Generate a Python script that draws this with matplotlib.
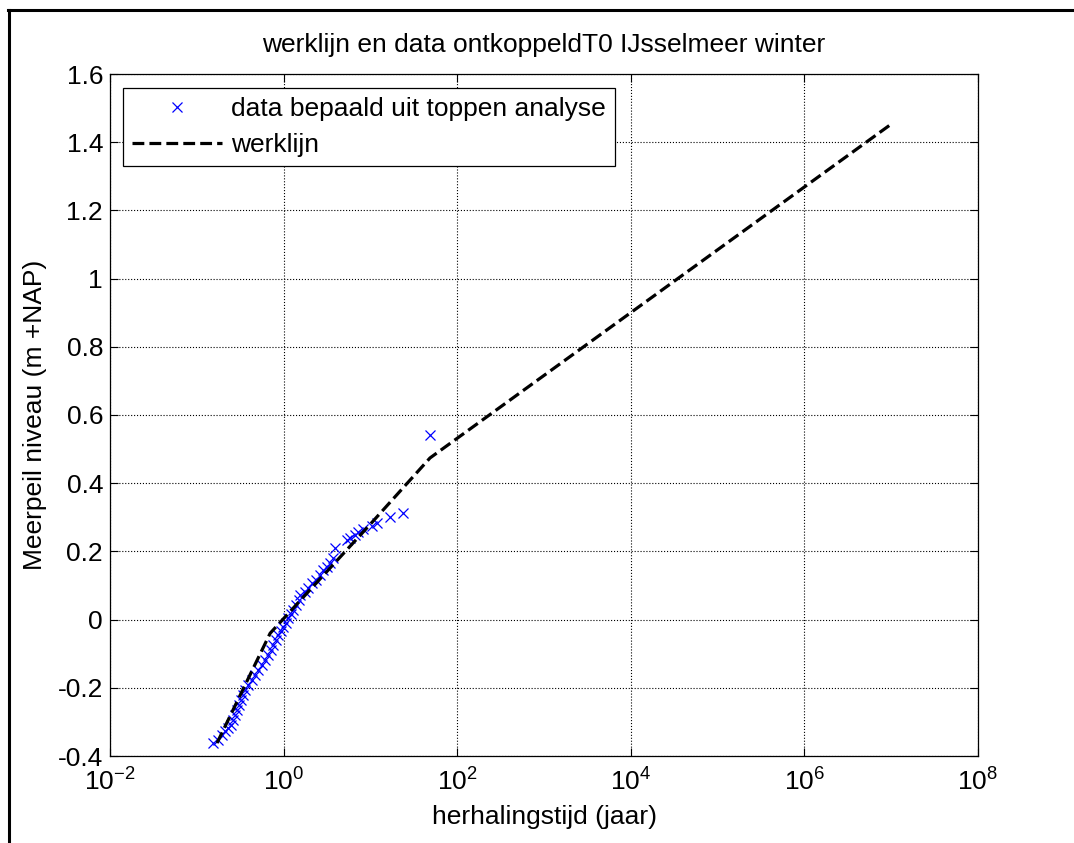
import numpy as np
import matplotlib.pyplot as plt
from matplotlib.lines import Line2D

plt.rcParams['font.family'] = ['Liberation Sans', 'DejaVu Sans']
plt.rcParams['mathtext.fontset'] = 'custom'
plt.rcParams['mathtext.rm'] = 'Liberation Sans'
plt.rcParams['mathtext.it'] = 'Liberation Sans'

# data bepaald uit toppen analyse (log10 van herhalingstijd, niveau)
log_T = np.array([-0.810, -0.753, -0.714, -0.676, -0.637, -0.611, -0.588, -0.561,
                  -0.541, -0.511, -0.495, -0.472, -0.445, -0.407, -0.369, -0.330,
                  -0.292, -0.253, -0.215, -0.177, -0.150, -0.119, -0.088, -0.061,
                  -0.035, -0.004, 0.027, 0.054, 0.081, 0.111, 0.142, 0.180,
                  0.188, 0.246, 0.284, 0.323, 0.372, 0.419, 0.457, 0.495,
                  0.534, 0.572, 0.591, 0.726, 0.764, 0.822, 0.860, 0.918,
                  1.014, 1.071, 1.225, 1.379, 1.686])
niveau = np.array([-0.363, -0.353, -0.338, -0.328, -0.319, -0.309, -0.294, -0.280,
                   -0.265, -0.250, -0.236, -0.221, -0.206, -0.192, -0.177, -0.162,
                   -0.148, -0.133, -0.118, -0.104, -0.089, -0.074, -0.060, -0.045,
                   -0.032, -0.021, -0.009, 0.004, 0.016, 0.028, 0.043, 0.058,
                   0.072, 0.082, 0.092, 0.106, 0.116, 0.131, 0.146, 0.155,
                   0.165, 0.180, 0.209, 0.234, 0.238, 0.248, 0.258, 0.265,
                   0.275, 0.282, 0.302, 0.312, 0.541])
T_data = 10 ** log_T

# werklijn
T_werk = np.array([0.171, 0.70, 10, 48.6, 1e7])
niveau_werk = np.array([-0.362, -0.04, 0.28, 0.474, 1.453])

xticks = [1e-2, 1e0, 1e2, 1e4, 1e6, 1e8]
xlabels = ['$10^{-2}$', '$10^{0}$', '$10^{2}$', '$10^{4}$', '$10^{6}$', '$10^{8}$']
yticks = [-0.4, -0.2, 0, 0.2, 0.4, 0.6, 0.8, 1, 1.2, 1.4, 1.6]
ylabels = ['-0.4', '-0.2', '0', '0.2', '0.4', '0.6', '0.8', '1', '1.2', '1.4', '1.6']

fs = 19
fig = plt.figure(figsize=(10.74, 8.43), dpi=100)
ax = fig.add_axes([110 / 1074, 1 - 756 / 843, 868 / 1074, 682 / 843])

ax.semilogx(T_data, niveau, 'x', color='#0000ff', markersize=7, markeredgewidth=0.9,
            label='data bepaald uit toppen analyse')
ax.semilogx(T_werk, niveau_werk, '--', color='k', linewidth=2.3, label='werklijn')

ax.set_xlim(1e-2, 1e8)
ax.set_ylim(-0.4, 1.6)
ax.set_xticks(xticks)
ax.set_xticklabels(xlabels, fontsize=fs)
ax.minorticks_off()
ax.set_yticks(yticks)
ax.set_yticklabels(ylabels, fontsize=fs)
ax.tick_params(direction='in', top=True, right=True, length=6, width=0.8)
ax.tick_params(axis='x', pad=9)
ax.tick_params(axis='y', pad=5)
ax.grid(True, linestyle=':', color='k', linewidth=0.8)
for s in ax.spines.values():
    s.set_linewidth(0.9)

ax.set_title('werklijn en data ontkoppeldT0 IJsselmeer winter', fontsize=fs, pad=16)
ax.set_xlabel('herhalingstijd (jaar)', fontsize=fs, labelpad=7)
ax.set_ylabel('Meerpeil niveau (m +NAP)', fontsize=fs, labelpad=8)

leg = ax.legend(loc='upper left', bbox_to_anchor=(123 / 1074, 1 - 88 / 843),
                bbox_transform=fig.transFigure, borderaxespad=0, fontsize=fs,
                fancybox=False, edgecolor='k', framealpha=1, handlelength=3.4,
                borderpad=0.35, labelspacing=0.45, handletextpad=0.35)
leg.get_frame().set_linewidth(0.9)

# rand om de figuur
fig.add_artist(Line2D([8 / 1074, 1], [1 - 9.5 / 843, 1 - 9.5 / 843], color='k', lw=2.2,
                      transform=fig.transFigure))
fig.add_artist(Line2D([8.5 / 1074, 8.5 / 1074], [0, 1 - 9.5 / 843], color='k', lw=2.2,
                      transform=fig.transFigure))

fig.savefig('out.png', dpi=100)
